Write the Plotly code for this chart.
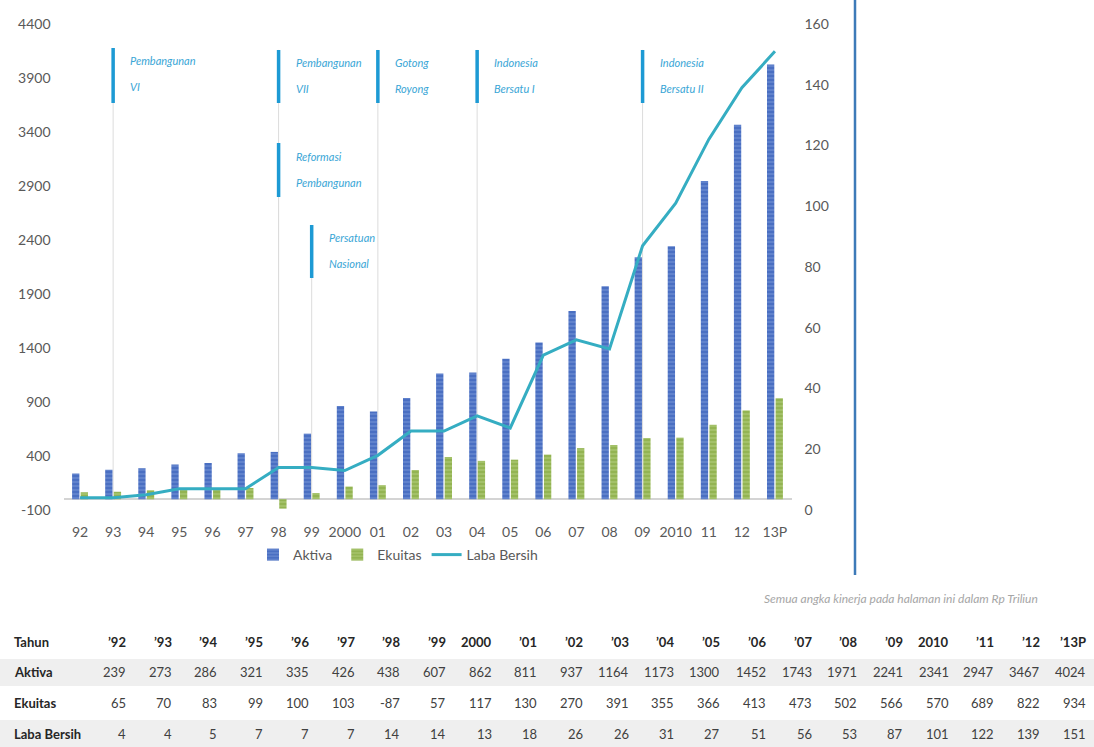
import plotly.graph_objects as go

# ---------------- data ----------------
years = ["92", "93", "94", "95", "96", "97", "98", "99", "2000", "01", "02",
         "03", "04", "05", "06", "07", "08", "09", "2010", "11", "12", "13P"]
table_years = ["’92", "’93", "’94", "’95", "’96", "’97", "’98", "’99", "2000", "’01", "’02",
               "’03", "’04", "’05", "’06", "’07", "’08", "’09", "2010", "’11", "’12", "’13P"]
aktiva = [239, 273, 286, 321, 335, 426, 438, 607, 862, 811, 937,
          1164, 1173, 1300, 1452, 1743, 1971, 2241, 2341, 2947, 3467, 4024]
ekuitas = [65, 70, 83, 99, 100, 103, -87, 57, 117, 130, 270,
           391, 355, 366, 413, 473, 502, 566, 570, 689, 822, 934]
laba_bersih = [4, 4, 5, 7, 7, 7, 14, 14, 13, 18, 26,
               26, 31, 27, 51, 56, 53, 87, 101, 122, 139, 151]
left_ticks = [-100, 400, 900, 1400, 1900, 2400, 2900, 3400, 3900, 4400]
left_tick_text = ["-100", "400", "900", "1400", "1900", "2400", "2900", "3400", "3900", "4400"]

# cabinet periods: (category, line 1, line 2)
periods = [
    ("93", "Pembangunan", "VI"),
    ("98", "Pembangunan", "VII"),
    ("98", "Reformasi", "Pembangunan"),
    ("99", "Persatuan", "Nasional"),
    ("01", "Gotong", "Royong"),
    ("04", "Indonesia", "Bersatu I"),
    ("09", "Indonesia", "Bersatu II"),
]
# vertical placement of each period marker (left axis units)
period_pos = [(4178, 3669), (4160, 3669), (3298, 2798), (2539, 2048),
              (4160, 3669), (4160, 3669), (4160, 3669)]

W, H = 1094, 747
FONT = "Liberation Sans Narrow, Lato, sans-serif"
ITAL = "Lato, Open Sans, sans-serif"
BLUE_TXT = "#3aa6d6"


def px_x(p):
    return p / W


def px_y(p):
    return 1 - p / H


fig = go.Figure()

fig.add_trace(go.Bar(
    x=years, y=aktiva, name="Aktiva",
    marker=dict(color="#4a6fc2", line=dict(width=0),
                pattern=dict(shape="-", bgcolor="#4a6fc2", fgcolor="#8aa5e0",
                             size=4, solidity=0.35)),
))
fig.add_trace(go.Bar(
    x=years, y=ekuitas, name="Ekuitas",
    marker=dict(color="#9bbb59", line=dict(width=0),
                pattern=dict(shape="-", bgcolor="#93b452", fgcolor="#c0d890",
                             size=4, solidity=0.35)),
))
fig.add_trace(go.Scatter(
    x=years, y=laba_bersih, name="Laba Bersih", mode="lines",
    line=dict(color="#35adc2", width=3), yaxis="y2",
))

shapes = []
annotations = []
for (cat, l1, l2), (top, bot) in zip(periods, period_pos):
    ci = years.index(cat)
    shapes.append(dict(type="line", xref="x", yref="y", x0=ci, x1=ci, y0=top, y1=0,
                       line=dict(color="#dcdcdc", width=1), layer="below"))
    shapes.append(dict(type="line", xref="x", yref="y", x0=ci, x1=ci, y0=top, y1=bot,
                       line=dict(color="#1d9ad4", width=3.5)))
    for txt, sh in ((l1, -13), (l2, -39)):
        annotations.append(dict(x=ci, y=top, xref="x", yref="y", text="<i>" + txt + "</i>",
                                showarrow=False, xanchor="left", yanchor="middle",
                                xshift=15, yshift=sh,
                                font=dict(family=ITAL, size=11, color=BLUE_TXT)))

# right decorative divider
shapes.append(dict(type="line", xref="paper", yref="paper", x0=px_x(855), x1=px_x(855),
                   y0=px_y(0), y1=px_y(575), line=dict(color="#3d7ab8", width=2.5)))

# footnote
annotations.append(dict(x=px_x(1040), y=px_y(598), xref="paper", yref="paper",
                        text="<i>Semua angka kinerja pada halaman ini dalam Rp Triliun</i>",
                        showarrow=False, xanchor="right", yanchor="middle",
                        font=dict(family=ITAL, size=12, color="#a6a6a6")))

# table
row_y = [642, 672, 703, 734]
row_labels = ["Tahun", "Aktiva", "Ekuitas", "Laba Bersih"]
for yb0, yb1 in ((659, 686), (720, 747)):
    shapes.append(dict(type="rect", xref="paper", yref="paper", x0=0, x1=1,
                       y0=px_y(yb1), y1=px_y(yb0), fillcolor="#efefef",
                       line=dict(width=0), layer="below"))
rows = [table_years, aktiva, ekuitas, laba_bersih]
for r, (lab, vals) in enumerate(zip(row_labels, rows)):
    annotations.append(dict(x=px_x(12), y=px_y(row_y[r]), xref="paper", yref="paper",
                            text="<b>" + lab + "</b>", showarrow=False,
                            xanchor="left", yanchor="middle",
                            font=dict(family=FONT, size=13, color="#262626")))
    for k, v in enumerate(vals):
        t = "<b>" + str(v) + "</b>" if r == 0 else str(v)
        annotations.append(dict(x=px_x(128 + k * 45.7), y=px_y(row_y[r]),
                                xref="paper", yref="paper", text=t, showarrow=False,
                                xanchor="right", yanchor="middle",
                                font=dict(family=FONT, size=13,
                                          color="#262626" if r == 0 else "#404040")))

x0d, x1d = px_x(63.5), px_x(791.5)
y0d, y1d = px_y(510), px_y(24)

fig.update_layout(
    width=W, height=H,
    margin=dict(l=0, r=0, t=0, b=0),
    paper_bgcolor="white", plot_bgcolor="white",
    barmode="group", bargap=0.48, bargroupgap=0.15,
    font=dict(family=FONT, size=14, color="#595959"),
    xaxis=dict(type="category", domain=[x0d, x1d], range=[-0.5, len(years) - 0.5],
               showgrid=False, showline=False, tickangle=0,
               ticks="", ticklabelstandoff=12, automargin=False,
               tickfont=dict(size=14, color="#595959")),
    yaxis=dict(domain=[y0d, y1d], range=[-100, 4400],
               tickvals=left_ticks, ticktext=left_tick_text,
               showgrid=False, zeroline=True, zerolinecolor="#d4d4d4", zerolinewidth=2,
               showline=False, ticks="", ticklabelstandoff=12, automargin=False,
               tickfont=dict(size=14, color="#595959")),
    yaxis2=dict(overlaying="y", side="right", anchor="x", range=[0, 160], dtick=20,
                showgrid=False, zeroline=False, showline=False, ticks="",
                ticklabelstandoff=12, automargin=False,
                tickfont=dict(size=14, color="#595959")),
    legend=dict(orientation="h", x=px_x(398), xanchor="center", y=px_y(555),
                yanchor="middle", font=dict(size=14, color="#595959"),
                bgcolor="rgba(0,0,0,0)", itemwidth=30),
    shapes=shapes,
    annotations=annotations,
)

fig.write_html("out.html")
